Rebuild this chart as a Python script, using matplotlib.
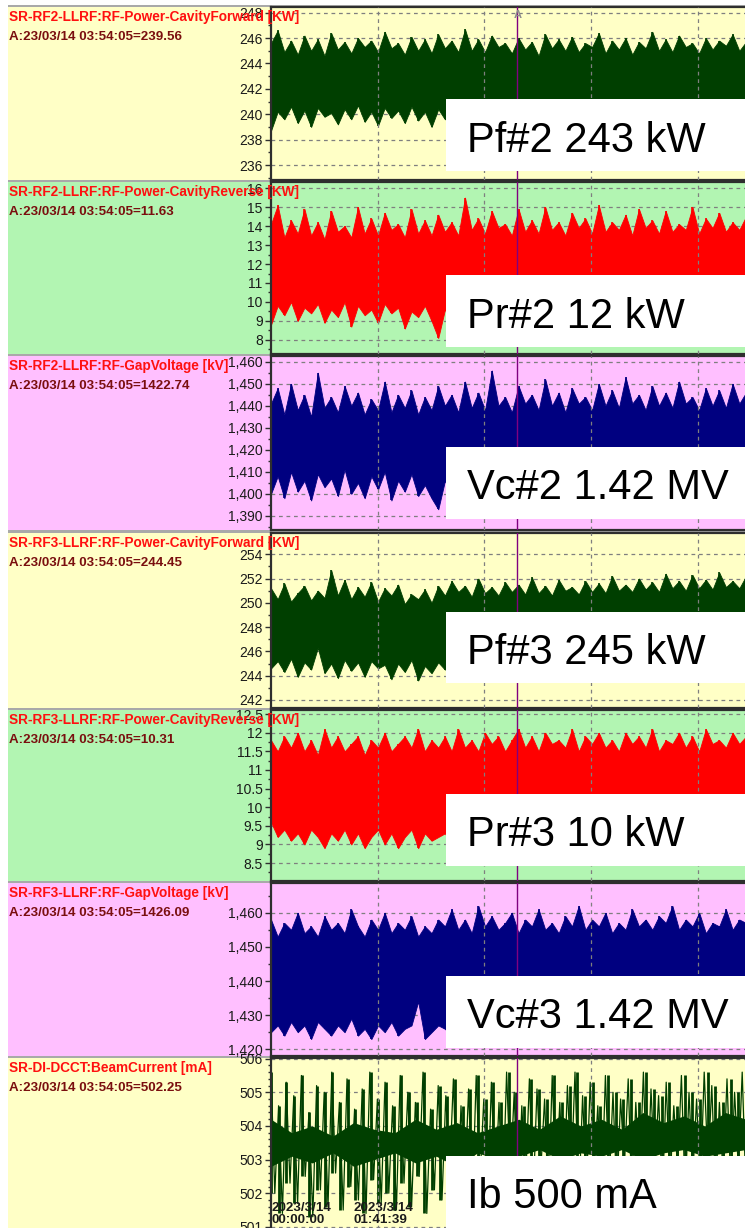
import numpy as np
import matplotlib
matplotlib.use("Agg")
import matplotlib.pyplot as plt
from matplotlib.patches import Rectangle
from matplotlib.ticker import MultipleLocator, FuncFormatter

# ---------------------------------------------------------------- data
# Archived RF / beam signals, 2023-03-14, time in minutes from 00:00:00.
# Each RF trace is stored as the upper and lower envelope of the recorded
# noise band (one value per sample interval).
pf2_hi = [245.6, 246.6, 244.9, 245.8, 244.7, 246.2, 245.0, 245.9, 244.6, 246.4, 245.1, 245.7, 244.8,
          246.0, 245.3, 245.8, 244.9, 246.5, 245.2, 245.6, 244.7, 246.1, 245.0, 245.9, 244.8, 246.3,
          245.2, 245.8, 244.9, 246.7, 245.0, 245.9, 244.9, 246.2, 245.3, 245.6, 244.8, 246.0, 245.1,
          245.7, 244.6, 246.3, 245.2, 245.9, 245.0, 246.1, 244.9, 245.6, 245.3, 246.4, 244.8, 245.8,
          245.1, 246.0, 244.7, 245.7, 245.2, 246.5, 245.0, 245.9, 244.9, 246.2, 245.3, 245.6, 244.8,
          246.0, 245.1, 245.8, 245.4, 246.3, 245.0, 245.7]
pf2_lo = [238.7, 240.2, 239.6, 240.6, 239.3, 240.3, 239.0, 240.5, 239.8, 240.1, 239.2, 240.4, 239.6,
          240.7, 239.4, 240.2, 239.1, 240.5, 239.7, 240.3, 239.3, 240.6, 239.5, 240.2, 239.0, 240.4,
          239.6, 240.3, 239.2, 240.5, 239.7, 240.1, 239.4, 240.6, 239.8, 240.2, 239.3, 240.4, 239.6,
          240.3, 239.1, 240.5, 239.7, 240.2, 239.5, 240.6, 239.4, 240.1, 239.8, 240.3, 239.2, 240.5,
          239.6, 240.2, 239.4, 240.4, 239.7, 240.1, 239.3, 240.6, 239.5, 240.2, 239.8, 240.4, 239.2,
          240.3, 239.6, 240.5, 239.4, 240.2, 239.7, 240.3]

pr2_hi = [14.1, 15.1, 13.4, 14.3, 13.6, 14.9, 13.5, 14.2, 13.3, 14.8, 13.7, 14.0, 13.4, 15.0, 13.6,
          14.4, 13.5, 14.7, 13.8, 14.1, 13.4, 14.9, 13.6, 14.3, 13.5, 14.6,
          13.7, 14.2, 13.5, 15.5, 13.8, 14.4, 13.6, 14.8, 13.9, 14.1, 13.5, 14.9, 13.7, 14.3, 13.6,
          15.0, 13.8, 14.2, 13.5, 14.7, 13.9, 14.4, 13.6, 15.1, 13.7, 14.2, 13.8, 14.6, 13.5, 14.9,
          13.9, 14.3, 13.6, 14.8, 13.7, 14.1, 13.8, 15.0, 13.6, 14.4, 13.9, 14.7, 13.7, 14.2, 13.8, 14.5]
pr2_lo = [8.8, 9.8, 9.3, 10.0, 9.0, 9.7, 9.4, 9.9, 8.9, 9.6, 9.2, 10.0, 8.7, 9.8, 9.3, 9.6, 8.9, 9.9,
          9.4, 9.7, 8.6, 9.5, 9.2, 9.8, 9.0, 8.1,
          9.6, 9.1, 9.9, 9.3, 9.7, 8.9, 9.8, 9.4, 10.0, 9.0, 9.6, 9.2, 9.9, 8.8, 9.7, 9.3, 9.8, 9.1,
          9.5, 9.4, 10.0, 8.9, 9.7, 9.2, 9.6, 9.0, 9.9, 9.3, 9.8, 8.8, 9.6, 9.4, 9.7, 9.1, 9.9, 9.2,
          9.5, 9.0, 9.8, 9.3, 9.6, 8.9, 9.7, 9.4, 9.8, 9.2]

vc2_hi = [1441, 1448, 1436, 1450, 1438, 1445, 1435, 1455, 1439, 1444, 1437, 1449, 1440, 1446, 1436,
          1443, 1438, 1451, 1437, 1445, 1439, 1447, 1436, 1444, 1438, 1449,
          1440, 1445, 1437, 1451, 1439, 1446, 1438, 1456, 1440, 1444, 1437, 1449, 1441, 1445, 1438,
          1452, 1440, 1446, 1437, 1448, 1441, 1444, 1438, 1450, 1440, 1447, 1439, 1453, 1441, 1445,
          1438, 1449, 1440, 1446, 1439, 1451, 1441, 1444, 1438, 1448, 1440, 1447, 1439, 1450, 1441, 1446]
vc2_lo = [1400, 1408, 1398, 1410, 1401, 1406, 1397, 1409, 1403, 1407, 1399, 1411, 1400, 1405, 1398,
          1408, 1402, 1410, 1397, 1406, 1401, 1409, 1399, 1404, 1398, 1393,
          1406, 1400, 1409, 1403, 1407, 1399, 1410, 1402, 1406, 1398, 1408, 1401, 1409, 1400, 1405,
          1402, 1410, 1399, 1407, 1403, 1408, 1400, 1406, 1398, 1409, 1402, 1407, 1401, 1410, 1399,
          1406, 1403, 1408, 1400, 1405, 1402, 1409, 1399, 1407, 1401, 1408, 1400, 1406, 1403, 1409, 1401]

pf3_hi = [251.2, 250.3, 251.6, 250.1, 250.8, 251.4, 250.2, 251.0, 250.4, 252.7, 250.6, 251.9, 250.3,
          251.3, 250.5, 251.7, 250.1, 251.2, 250.6, 251.5, 249.9, 250.7, 250.3, 251.1, 250.0, 251.4,
          250.6, 251.8, 250.9, 251.4, 250.5, 252.0, 250.8, 251.3, 250.6, 251.7, 250.9, 251.5, 250.7,
          252.1, 250.8, 251.4, 250.6, 251.9, 251.0, 251.3, 250.7, 251.8, 250.9, 251.6, 250.8, 252.2,
          251.0, 251.5, 250.9, 252.0, 251.1, 251.7, 250.9, 252.4, 251.2, 251.8, 251.0, 252.3, 251.2,
          251.9, 251.1, 252.5, 251.3, 251.8, 251.2, 252.2]
pf3_lo = [244.6, 245.2, 244.3, 245.4, 243.9, 245.1, 244.5, 246.3, 244.2, 245.0, 243.8, 245.3, 244.4,
          245.1, 243.9, 245.2, 244.6, 244.9, 243.7, 245.0, 244.3, 245.3, 243.6, 244.8, 244.2, 245.1,
          244.5, 245.2, 244.1, 245.4, 244.4, 245.0, 243.9, 245.3, 244.6, 245.1, 244.2, 245.4, 244.5,
          244.9, 244.0, 245.2, 244.6, 245.3, 244.3, 245.0, 244.7, 245.4, 244.1, 245.2, 244.5, 245.1,
          244.3, 245.3, 244.6, 245.0, 244.2, 245.4, 244.5, 245.1, 244.0, 245.3, 244.6, 245.2, 244.4,
          245.0, 244.7, 245.4, 244.3, 245.1, 244.5, 245.2]

pr3_hi = [11.8, 11.5, 11.9, 11.6, 12.0, 11.5, 11.8, 11.4, 12.1, 11.6, 11.9, 11.5, 11.7, 11.9, 11.4,
          11.8, 11.6, 12.0, 11.5, 11.7, 11.9, 11.6, 12.1, 11.5, 11.8, 11.6,
          11.9, 11.5, 12.1, 11.6, 11.8, 11.5, 12.0, 11.7, 11.9, 11.5, 11.8, 12.1, 11.6, 11.9, 11.5,
          12.0, 11.7, 11.8, 11.6, 12.1, 11.5, 11.9, 11.7, 12.0, 11.6, 11.8, 11.5, 12.0, 11.7, 11.9,
          11.6, 12.1, 11.5, 11.8, 11.7, 12.0, 11.6, 11.9, 11.5, 12.1, 11.7, 11.8, 11.6, 12.0, 11.7, 11.9]
pr3_lo = [9.6, 9.2, 9.4, 9.1, 9.3, 9.0, 9.4, 9.2, 8.9, 9.3, 9.1, 9.4, 9.0, 9.3, 8.9, 9.2, 9.4, 9.0,
          9.3, 8.9, 9.2, 9.4, 8.9, 9.3, 9.1, 9.2,
          9.3, 9.0, 9.4, 9.1, 9.3, 8.9, 9.2, 9.4, 9.0, 9.3, 9.1, 9.4, 8.9, 9.3, 9.2, 9.0, 9.4, 9.1,
          9.3, 8.9, 9.2, 9.4, 9.0, 9.3, 9.1, 9.4, 9.0, 9.2, 9.3, 8.9, 9.4, 9.1, 9.3, 9.0, 9.2, 9.4,
          9.0, 9.3, 9.1, 9.4, 8.9, 9.3, 9.2, 9.0, 9.4, 9.1]

vc3_hi = [1458, 1453, 1457, 1455, 1460, 1454, 1456, 1453, 1459, 1455, 1457, 1454, 1461, 1456, 1453,
          1458, 1455, 1460, 1454, 1457, 1455, 1459, 1453, 1456, 1454, 1458,
          1456, 1461, 1455, 1458, 1454, 1462, 1456, 1459, 1455, 1457, 1460, 1454, 1458, 1456, 1461,
          1455, 1457, 1454, 1459, 1456, 1462, 1455, 1458, 1456, 1460, 1454, 1457, 1455, 1461, 1456,
          1458, 1455, 1459, 1457, 1462, 1455, 1458, 1456, 1460, 1454, 1457, 1456, 1461, 1455, 1458, 1457]
vc3_lo = [1425, 1427, 1424, 1428, 1425, 1427, 1423, 1428, 1426, 1424, 1427, 1425, 1429, 1424, 1426,
          1423, 1427, 1425, 1428, 1424, 1426, 1427, 1434, 1423, 1425, 1427,
          1426, 1424, 1428, 1425, 1427, 1423, 1426, 1428, 1424, 1427, 1425, 1429, 1424, 1426, 1427,
          1423, 1428, 1425, 1426, 1424, 1428, 1425, 1427, 1423, 1426, 1428, 1424, 1427, 1425, 1429,
          1424, 1426, 1427, 1424, 1428, 1425, 1426, 1423, 1427, 1425, 1428, 1424, 1426, 1427, 1425, 1428]

# Beam current: top-up cycles, peak after each injection and trough before it
ib_peak = [505.6, 504.6, 505.3, 504.9, 505.5, 504.4, 505.2, 505.0, 505.6, 504.7, 505.4, 504.5, 505.1,
           505.6, 504.8, 505.3, 504.6, 505.5, 505.0, 504.7, 505.6, 504.5, 505.2, 504.9, 505.4, 504.6,
           505.1, 505.5, 504.8, 505.3, 504.7, 505.6, 505.0, 504.6, 505.4, 505.1, 504.8, 505.5, 504.7,
           505.2, 505.6, 504.9, 505.3, 504.6, 505.5, 505.0, 504.8, 505.4, 504.7, 505.6, 505.1, 504.9,
           505.3, 504.6, 505.5, 505.0, 504.8, 505.6, 505.2, 504.7, 505.4, 505.0, 505.6]
ib_trough = [502.0, 501.4, 502.3, 501.7, 502.5, 501.3, 502.1, 501.6, 502.6, 501.5, 502.2, 501.8, 501.4,
             502.4, 501.7, 502.0, 501.5, 502.3, 501.6, 502.5, 501.4, 502.1, 501.8, 502.6, 501.5, 502.2,
             501.7, 502.4, 501.6, 502.0, 501.8, 502.5, 501.5, 502.3, 501.9, 502.7, 501.6, 502.2, 501.8,
             502.5, 501.7, 502.1, 502.6, 501.8, 502.3, 501.9, 502.8, 501.7, 502.4, 502.0, 502.6, 501.8,
             502.3, 502.7, 501.9, 502.5, 502.1, 502.8, 501.9, 502.4, 502.2, 502.7, 502.0]
# densest part of the beam-current trace
ib_core_hi = [504.2, 503.8, 504.0, 503.7, 504.1, 503.9, 503.8, 504.2, 503.9, 504.1, 503.8, 504.0,
              504.2, 503.9, 504.3, 504.0, 504.2, 503.9, 504.4, 504.1, 504.3, 504.0, 504.4, 504.2]
ib_core_lo = [502.8, 503.1, 502.9, 503.2, 502.8, 503.0, 503.2, 502.9, 503.1, 502.8, 503.2, 503.0,
              503.1, 503.3, 503.0, 503.2, 503.1, 503.3, 503.0, 503.2, 503.3, 503.1, 503.2, 503.3]

signal_names = ["SR-RF2-LLRF:RF-Power-CavityForward [KW]",
                "SR-RF2-LLRF:RF-Power-CavityReverse [KW]",
                "SR-RF2-LLRF:RF-GapVoltage [kV]",
                "SR-RF3-LLRF:RF-Power-CavityForward [KW]",
                "SR-RF3-LLRF:RF-Power-CavityReverse [KW]",
                "SR-RF3-LLRF:RF-GapVoltage [kV]",
                "SR-DI-DCCT:BeamCurrent [mA]"]
cursor_values = ["239.56", "11.63", "1422.74", "244.45", "10.31", "1426.09", "502.25"]
cursor_stamp = "23/03/14 03:54:05"
cursor_minutes = 3 * 60 + 54 + 5 / 60
summary_labels = ["Pf#2 243 kW", "Pr#2 12 kW", "Vc#2 1.42 MV", "Pf#3 245 kW",
                  "Pr#3 10 kW", "Vc#3 1.42 MV", "Ib 500 mA"]
time_labels = ["2023/3/14\n00:00:00", "2023/3/14\n01:41:39"]
window_minutes = 452.4
grid_minutes = 101 + 39 / 60

envelopes = [(pf2_lo, pf2_hi), (pr2_lo, pr2_hi), (vc2_lo, vc2_hi),
             (pf3_lo, pf3_hi), (pr3_lo, pr3_hi), (vc3_lo, vc3_hi)]

# ---------------------------------------------------------------- layout
W, H = 745, 1228
fig = plt.figure(figsize=(W / 100, H / 100), dpi=100)
fig.patch.set_facecolor("white")


def fx(x):
    return x / W


def fy(y):
    return 1 - y / H


YELLOW, GREEN, PINK = "#ffffc6", "#b2f5b2", "#ffbfff"
DKGREEN, RED, NAVY = "#003f00", "#ff0000", "#000080"

# (top px, bottom px, ylim, major step, minor step, background, trace colour, box top, box bottom)
panels = [
    (7, 180, (234.82, 248.45), 2, 1, YELLOW, DKGREEN, 99, 171),
    (182, 354, (7.26, 16.32), 1, 0.5, GREEN, RED, 275, 347),
    (356, 530, (1383.6, 1462.6), 10, 5, PINK, NAVY, 447, 519),
    (533, 708, (241.34, 255.75), 2, 1, YELLOW, DKGREEN, 612, 683),
    (710, 881, (8.02, 12.61), 0.5, 0.25, GREEN, RED, 794, 866),
    (883, 1056, (1418.04, 1468.7), 10, 5, PINK, NAVY, 976, 1048),
    (1058, 1240, (500.61, 506.02), 1, 0.2, YELLOW, DKGREEN, 1156, 1240),
]

LABEL_FONT = ["Liberation Sans", "DejaVu Sans"]
AX_LEFT, AX_RIGHT = 271, 746

# grey column behind the panels (shows as separators between them)
fig.patches.append(Rectangle((fx(8), fy(H + 5)), fx(W), fy(5) - fy(H + 5),
                             transform=fig.transFigure, facecolor="#a9a9a9",
                             edgecolor="none", zorder=-3))

t_env = np.linspace(0, window_minutes, len(pf2_hi))
t_cyc = np.linspace(0, window_minutes, len(ib_peak))
t_ib = np.linspace(0, window_minutes, 2 * len(ib_peak))
t_core = np.linspace(0, window_minutes, len(ib_core_hi))
grid_x = np.arange(grid_minutes, window_minutes, grid_minutes)

for i, (top, bot, ylim, major, minor, bg, col, btop, bbot) in enumerate(panels):
    # label column background
    fig.patches.append(Rectangle((fx(8), fy(bot)), fx(AX_RIGHT) - fx(8), fy(top) - fy(bot),
                                 transform=fig.transFigure, facecolor=bg,
                                 edgecolor="none", zorder=-2))
    ax = fig.add_axes([fx(AX_LEFT), fy(bot), fx(AX_RIGHT) - fx(AX_LEFT), fy(top) - fy(bot)])
    ax.set_facecolor(bg)
    ax.set_xlim(0, window_minutes)
    ax.set_ylim(*ylim)

    if i < 6:
        lo, hi = envelopes[i]
        ax.fill_between(t_env, lo, hi, color=col, lw=0.6, zorder=2)
        ax.vlines(t_env, lo, hi, color=col, lw=1.2, zorder=2)
    else:
        ib = np.empty(2 * len(ib_peak))
        ib[0::2] = ib_peak
        ib[1::2] = ib_trough
        ax.fill_between(t_core, ib_core_lo, ib_core_hi, color=col, lw=0, zorder=2)
        ax.plot(t_ib, ib, color=col, lw=0.9, zorder=2)
        ax.vlines(t_cyc, ib_trough, ib_peak, color=col, lw=2.0, zorder=2)

    # vertical time grid sits on top of the traces, value grid behind
    ax.vlines(grid_x, *ylim, color="#7f7f7f", lw=0.9, ls=(0, (3, 3)), zorder=2.6)
    ax.grid(True, axis="y", which="major", color="#7f7f7f", lw=0.9, ls=(0, (3, 3)))
    ax.set_axisbelow(True)
    ax.axvline(cursor_minutes, color="#800080", lw=1.0, zorder=3)

    ax.set_xticks([])
    ax.yaxis.set_major_locator(MultipleLocator(major))
    ax.yaxis.set_minor_locator(MultipleLocator(minor))
    if major >= 10:
        ax.yaxis.set_major_formatter(FuncFormatter(lambda v, p: f"{v:,.0f}"))
    else:
        ax.yaxis.set_major_formatter(FuncFormatter(lambda v, p: f"{v:g}"))
    ax.tick_params(axis="y", which="major", direction="out", length=4, width=1,
                   color="#303030", pad=2, labelsize=10, labelcolor="#1a1a1a")
    ax.tick_params(axis="y", which="minor", direction="out", length=2.5, width=1,
                   color="#303030")
    for lab in ax.get_yticklabels():
        lab.set_fontfamily(LABEL_FONT)
    for side in ("left", "top", "bottom"):
        ax.spines[side].set_color("#2e2e2e")
        ax.spines[side].set_linewidth(1.6)
    ax.spines["right"].set_visible(False)

    # signal name and cursor readout
    fig.text(fx(9), fy(top + 14), signal_names[i], color="#ff1010", fontsize=9.8,
             fontweight="bold", family=LABEL_FONT, va="baseline", ha="left", zorder=4)
    fig.text(fx(9), fy(top + 33), f"A:{cursor_stamp}={cursor_values[i]}", color="#7a0f0f",
             fontsize=9.6, fontweight="bold", family=LABEL_FONT, va="baseline", ha="left",
             zorder=4)

    # summary box
    fig.patches.append(Rectangle((fx(446), fy(bbot)), fx(W + 5) - fx(446), fy(btop) - fy(bbot),
                                 transform=fig.transFigure, facecolor="white",
                                 edgecolor="none", zorder=5))
    yc = (btop + min(bbot, H)) / 2 + 1
    fig.text(fx(467), fy(yc), summary_labels[i], fontsize=30, family=LABEL_FONT,
             color="black", va="center_baseline", ha="left", zorder=6)

# cursor marker
fig.text(fx(518), fy(15), "A", color="#8c8c8c", fontsize=8, fontweight="bold",
         family=LABEL_FONT, ha="center", va="center", zorder=4)

# time stamps at the bottom of the last panel
fig.text(fx(272), fy(1202), time_labels[0], fontsize=9.6, fontweight="bold",
         family=LABEL_FONT, color="#1a1a1a", ha="left", va="top", linespacing=0.95, zorder=4)
fig.text(fx(354), fy(1202), time_labels[1], fontsize=9.6, fontweight="bold",
         family=LABEL_FONT, color="#1a1a1a", ha="left", va="top", linespacing=0.95, zorder=4)

fig.savefig("out.png", dpi=100)
